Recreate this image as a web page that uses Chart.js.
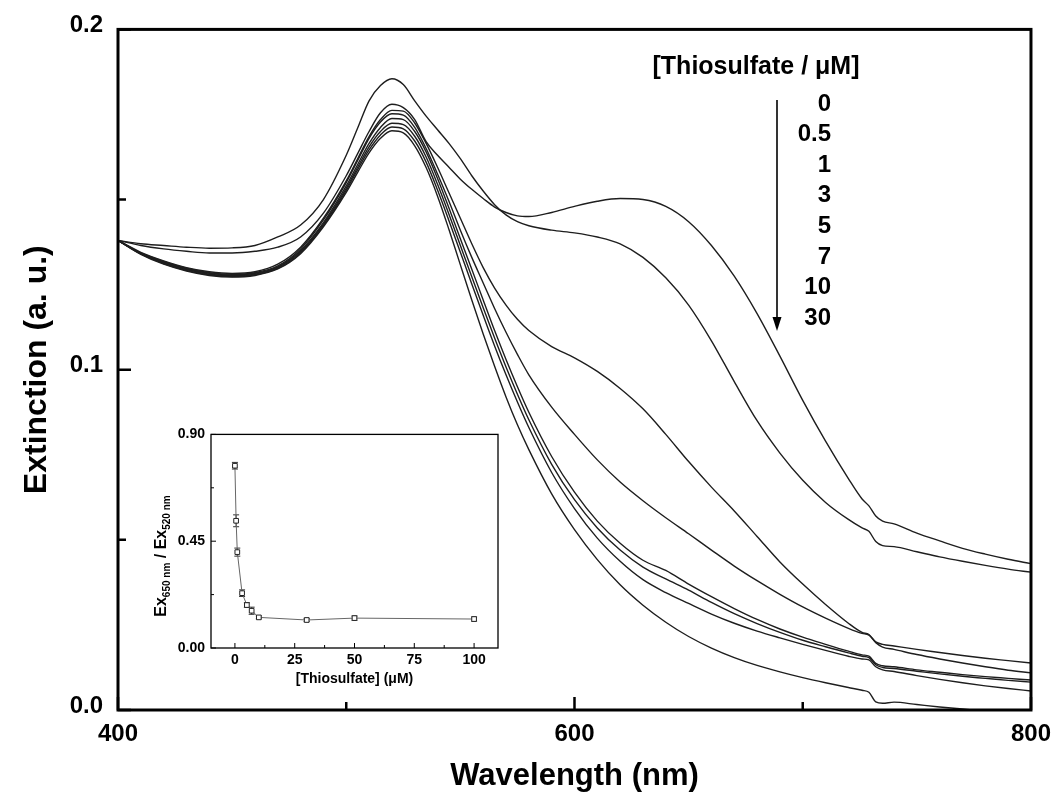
<!DOCTYPE html>
<html>
<head>
<meta charset="utf-8">
<title>Extinction spectra - thiosulfate</title>
<script src="https://cdn.jsdelivr.net/npm/chart.js@4.4.0/dist/chart.umd.min.js"></script>
<style>
  html, body { margin: 0; padding: 0; background: #fff; }
  #wrap { position: relative; width: 1061px; height: 802px; }
  #mainChart { position: absolute; left: 0; top: 0; }
  #insetChart { position: absolute; left: 140px; top: 420px; }
</style>
</head>
<body>
<div id="wrap">
  <canvas id="mainChart" width="1061" height="802"></canvas>
  <canvas id="insetChart" width="370" height="280"></canvas>
</div>
<script>
/* ==================== DATA ==================== */
// wavelength grid (nm)
const wavelength = [400,410,420,430,440,450,460,470,480,490,500,
  505,510,515,520,525,530,535,540,545,550,555,560,565,570,575,580,
  590,600,610,620,630,640,650,660,670,680,690,700,710,720,
  726,729,732,735,
  740,750,760,770,780,790,800];

// extinction spectra, one per thiosulfate concentration
const ext0 = [0.138,0.1365,0.1355,0.1348,0.1343,0.1343,0.1348,0.1360,0.1390,0.1460,0.1570,
  0.1635,0.1700,0.1755,0.1780,0.1770,0.1735,0.1670,0.1630,0.1595,0.1560,0.1530,0.1503,0.1478,0.1462,0.1452,0.1450,
  0.1462,0.1480,0.1495,0.1503,0.1500,0.1480,0.1435,0.1365,0.1275,0.1165,0.1040,0.0910,0.0790,0.0680,
  0.0620,0.0600,0.0570,0.0555,
  0.0547,0.0520,0.0497,0.0475,0.0458,0.0443,0.0430];
const ext05 = [0.138,0.1370,0.1365,0.1360,0.1357,0.1358,0.1365,0.1390,0.1425,0.1500,0.1630,
  0.1710,0.1790,0.1835,0.1855,0.1838,0.1790,0.1745,0.1705,0.1665,0.1620,0.1570,0.1525,0.1485,0.1455,0.1435,0.1423,
  0.1410,0.1402,0.1390,0.1370,0.1330,0.1270,0.1190,0.1085,0.0965,0.0850,0.0755,0.0675,0.0610,0.0560,
  0.0535,0.0525,0.0495,0.0483,
  0.0480,0.0465,0.0450,0.0437,0.0425,0.0414,0.0405];
const ext1 = [0.138,0.1345,0.1320,0.1300,0.1288,0.1283,0.1288,0.1310,0.1360,0.1445,0.1555,
  0.1620,0.1685,0.1735,0.1762,0.1760,0.1725,0.1665,0.1595,0.1520,0.1445,0.1370,0.1300,0.1240,0.1190,0.1148,0.1115,
  0.1068,0.1035,0.0995,0.0945,0.0885,0.0810,0.0730,0.0655,0.0585,0.0510,0.0435,0.0370,0.0310,0.0255,
  0.0228,0.0222,0.0200,0.0193,
  0.0188,0.0178,0.0169,0.0160,0.0152,0.0145,0.0138];
const ext3 = [0.138,0.1343,0.1318,0.1298,0.1285,0.1280,0.1285,0.1305,0.1355,0.1440,0.1550,
  0.1615,0.1680,0.1728,0.1752,0.1748,0.1712,0.1650,0.1575,0.1495,0.1410,0.1330,0.1255,0.1180,0.1110,0.1045,0.0985,
  0.0890,0.0810,0.0735,0.0670,0.0615,0.0565,0.0518,0.0470,0.0423,0.0380,0.0340,0.0303,0.0270,0.0240,
  0.0225,0.0220,0.0198,0.0185,
  0.0178,0.0163,0.0150,0.0138,0.0127,0.0117,0.0109];
const ext5 = [0.138,0.1342,0.1316,0.1296,0.1283,0.1278,0.1283,0.1302,0.1350,0.1432,0.1540,
  0.1603,0.1665,0.1712,0.1738,0.1735,0.1700,0.1640,0.1562,0.1475,0.1385,0.1295,0.1205,0.1115,0.1030,0.0950,0.0875,
  0.0745,0.0640,0.0555,0.0490,0.0440,0.0410,0.0370,0.0333,0.0298,0.0266,0.0238,0.0214,0.0193,0.0173,
  0.0162,0.0158,0.0137,0.0130,
  0.0127,0.0118,0.0111,0.0104,0.0098,0.0093,0.0088];
const ext7 = [0.138,0.1341,0.1314,0.1294,0.1281,0.1276,0.1281,0.1300,0.1347,0.1428,0.1533,
  0.1595,0.1655,0.1700,0.1724,0.1720,0.1686,0.1625,0.1545,0.1457,0.1365,0.1273,0.1182,0.1093,0.1008,0.0928,0.0853,
  0.0722,0.0618,0.0535,0.0470,0.0420,0.0385,0.0352,0.0316,0.0283,0.0254,0.0228,0.0205,0.0186,0.0168,
  0.0158,0.0154,0.0133,0.0125,
  0.0122,0.0114,0.0106,0.0099,0.0093,0.0087,0.0082];
const ext10 = [0.138,0.1340,0.1312,0.1292,0.1279,0.1274,0.1279,0.1298,0.1344,0.1424,0.1527,
  0.1588,0.1646,0.1690,0.1713,0.1708,0.1672,0.1610,0.1528,0.1438,0.1345,0.1252,0.1160,0.1070,0.0985,0.0905,0.0830,
  0.0698,0.0592,0.0505,0.0437,0.0383,0.0345,0.0313,0.0282,0.0255,0.0232,0.0212,0.0193,0.0175,0.0158,
  0.0150,0.0147,0.0127,0.0118,
  0.0113,0.0101,0.0090,0.0080,0.0071,0.0063,0.0056];
const ext30 = [0.138,0.1339,0.1310,0.1290,0.1277,0.1272,0.1277,0.1296,0.1341,0.1420,0.1521,
  0.1580,0.1637,0.1680,0.1702,0.1696,0.1658,0.1594,0.1510,0.1412,0.1308,0.1205,0.1105,0.1010,0.0920,0.0838,0.0765,
  0.0635,0.0530,0.0442,0.0368,0.0308,0.0258,0.0216,0.0182,0.0154,0.0131,0.0112,0.0095,0.0080,0.0066,
  0.0058,0.0052,0.0024,0.0020,
  0.0023,0.0016,0.0009,0.0003,-0.0004,-0.0012,-0.0020];

const spectra = [ext0, ext05, ext1, ext3, ext5, ext7, ext10, ext30];
const concLabels = ['0', '0.5', '1', '3', '5', '7', '10', '30'];

// main axes ticks
const xTicks = [400, 600, 800];
const xTickLabels = ['400', '600', '800'];
const xMinor = [500, 700];
const yTicks = [0, 0.1, 0.2];
const yTickLabels = ['0.0', '0.1', '0.2'];
const yMinor = [0.05, 0.15];

// inset: ratio Ex650/Ex520 vs thiosulfate
const insetConc = [0, 0.5, 1, 3, 5, 7, 10, 30, 50, 100];
const insetRatio = [0.768, 0.536, 0.404, 0.231, 0.181, 0.157, 0.129, 0.118, 0.126, 0.122];
const insetErr = [0.014, 0.025, 0.017, 0.014, 0.010, 0.015, 0.006, 0.007, 0.009, 0.009];
const insetXTicks = [0, 25, 50, 75, 100];
const insetXMinor = [12.5, 37.5, 62.5, 87.5];
const insetYTicks = [0, 0.45, 0.9];
const insetYTickLabels = ['0.00', '0.45', '0.90'];
const insetYMinor = [0.225, 0.675];

/* ==================== PLUGINS ==================== */
const FONT = "'Liberation Sans', Arial, Helvetica, sans-serif";
Chart.defaults.font.family = FONT;
Chart.defaults.color = '#000';

// boxed frame + inward ticks (bottom and left only)
const frameAndTicks = {
  id: 'frameAndTicks',
  afterDraw(chart, args, o) {
    const { ctx, chartArea: a, scales: { x, y } } = chart;
    ctx.save();
    ctx.strokeStyle = '#000';
    ctx.lineWidth = o.tickWidth;
    ctx.beginPath();
    const xt = (vals, len) => vals.forEach(v => {
      const px = x.getPixelForValue(v);
      ctx.moveTo(px, a.bottom); ctx.lineTo(px, a.bottom - len);
    });
    const yt = (vals, len) => vals.forEach(v => {
      const py = y.getPixelForValue(v);
      ctx.moveTo(a.left, py); ctx.lineTo(a.left + len, py);
    });
    xt(o.xMajor, o.major); xt(o.xMinor, o.minor);
    yt(o.yMajor, o.major); yt(o.yMinor, o.minor);
    ctx.stroke();
    ctx.lineWidth = o.frame;
    ctx.strokeRect(a.left, a.top, a.right - a.left, a.bottom - a.top);
    ctx.restore();
  }
};

// concentration list with arrow
const concLegend = {
  id: 'concLegend',
  afterDraw(chart) {
    const ctx = chart.ctx;
    ctx.save();
    ctx.fillStyle = '#000';
    ctx.font = `bold 25px ${FONT}`;
    ctx.textAlign = 'center';
    ctx.textBaseline = 'middle';
    ctx.fillText('[Thiosulfate / μM]', 756, 67);
    ctx.font = `bold 24px ${FONT}`;
    ctx.textAlign = 'right';
    concLabels.forEach((t, i) => ctx.fillText(t, 831, 104 + i * 30.6));
    // arrow
    ctx.strokeStyle = '#000';
    ctx.lineWidth = 1.6;
    ctx.beginPath();
    ctx.moveTo(777, 100); ctx.lineTo(777, 320);
    ctx.stroke();
    ctx.beginPath();
    ctx.moveTo(777, 331); ctx.lineTo(772.5, 317); ctx.lineTo(781.5, 317);
    ctx.closePath(); ctx.fill();
    ctx.restore();
  }
};

/* ==================== MAIN CHART ==================== */
new Chart(document.getElementById('mainChart'), {
  type: 'line',
  data: {
    datasets: spectra.map((s, i) => ({
      label: concLabels[i] + ' µM',
      data: wavelength.map((w, j) => ({ x: w, y: s[j] })),
      borderColor: '#1e1e1e',
      borderWidth: 1.4,
      pointRadius: 0,
      cubicInterpolationMode: 'monotone',
      fill: false
    }))
  },
  options: {
    responsive: false,
    animation: false,
    layout: { padding: { left: 0, top: 28, right: 25, bottom: 0 } },
    plugins: {
      legend: { display: false },
      tooltip: { enabled: false },
      frameAndTicks: { frame: 3, tickWidth: 2.5, major: 13, minor: 8,
        xMajor: xTicks, xMinor: xMinor, yMajor: yTicks, yMinor: yMinor }
    },
    scales: {
      x: {
        type: 'linear', min: 400, max: 800,
        afterBuildTicks: s => { s.ticks = xTicks.map(v => ({ value: v })); },
        afterFit: s => { s.height = 92; },
        grid: { display: false, drawTicks: false },
        border: { display: false },
        ticks: { autoSkip: false, maxRotation: 0, padding: 10,
          font: { size: 24, weight: 'bold' }, color: '#000',
          callback: (v, i) => xTickLabels[i] },
        title: { display: true, text: 'Wavelength (nm)', color: '#000',
          font: { size: 31, weight: 'bold' }, padding: { top: 0, bottom: 7 } }
      },
      y: {
        type: 'linear', min: 0, max: 0.2,
        afterBuildTicks: s => { s.ticks = yTicks.map(v => ({ value: v })); },
        afterFit: s => { s.width = 118; },
        grid: { display: false, drawTicks: false },
        border: { display: false },
        ticks: { autoSkip: false, padding: 15, labelOffset: -4,
          font: { size: 24, weight: 'bold' }, color: '#000',
          callback: (v, i) => yTickLabels[i] },
        title: { display: true, text: 'Extinction (a. u.)', color: '#000',
          font: { size: 32, weight: 'bold' }, padding: { top: 18, bottom: 0 } }
      }
    }
  },
  plugins: [frameAndTicks, concLegend]
});

/* ==================== INSET ==================== */
const insetExtras = {
  id: 'insetExtras',
  beforeDatasetsDraw(chart) {
    const { ctx, scales: { x, y } } = chart;
    ctx.save();
    ctx.strokeStyle = '#333';
    ctx.lineWidth = 1;
    ctx.beginPath();
    insetConc.forEach((c, i) => {
      const px = x.getPixelForValue(c);
      const top = y.getPixelForValue(insetRatio[i] + insetErr[i]);
      const bot = y.getPixelForValue(insetRatio[i] - insetErr[i]);
      ctx.moveTo(px, top); ctx.lineTo(px, bot);
      ctx.moveTo(px - 3, top); ctx.lineTo(px + 3, top);
      ctx.moveTo(px - 3, bot); ctx.lineTo(px + 3, bot);
    });
    ctx.stroke();
    ctx.restore();
  },
  afterDraw(chart) {
    // rotated y title with subscripts
    const ctx = chart.ctx;
    const parts = [['Ex', 16, 0], ['650 nm', 10, 4], [' / Ex', 16, 0], ['520 nm', 10, 4]];
    ctx.save();
    ctx.translate(26, 136);
    ctx.rotate(-Math.PI / 2);
    ctx.fillStyle = '#000';
    ctx.textBaseline = 'alphabetic';
    ctx.textAlign = 'left';
    let total = 0;
    parts.forEach(p => { ctx.font = `bold ${p[1]}px ${FONT}`; total += ctx.measureText(p[0]).width; });
    let cx = -total / 2;
    parts.forEach(p => {
      ctx.font = `bold ${p[1]}px ${FONT}`;
      ctx.fillText(p[0], cx, p[2]);
      cx += ctx.measureText(p[0]).width;
    });
    ctx.restore();
  }
};

new Chart(document.getElementById('insetChart'), {
  type: 'line',
  data: {
    datasets: [{
      label: 'Ex650/Ex520',
      data: insetConc.map((c, i) => ({ x: c, y: insetRatio[i] })),
      borderColor: '#666',
      borderWidth: 1,
      tension: 0,
      pointStyle: 'rect',
      pointRadius: 3.3,
      pointBackgroundColor: '#fff',
      pointBorderColor: '#222',
      pointBorderWidth: 1
    }]
  },
  options: {
    responsive: false,
    animation: false,
    layout: { padding: { left: 0, top: 12, right: 12, bottom: 0 } },
    plugins: {
      legend: { display: false },
      tooltip: { enabled: false },
      frameAndTicks: { frame: 1.3, tickWidth: 1, major: 5, minor: 3,
        xMajor: insetXTicks, xMinor: insetXMinor, yMajor: insetYTicks, yMinor: insetYMinor }
    },
    scales: {
      x: {
        type: 'linear', min: -10, max: 110,
        afterBuildTicks: s => { s.ticks = insetXTicks.map(v => ({ value: v })); },
        afterFit: s => { s.height = 52; },
        grid: { display: false, drawTicks: false },
        border: { display: false },
        ticks: { autoSkip: false, maxRotation: 0, padding: 4,
          font: { size: 14, weight: 'bold' }, color: '#000' },
        title: { display: true, text: '[Thiosulfate] (μM)', color: '#000',
          font: { size: 14, weight: 'bold' }, padding: { top: 0, bottom: 12 } }
      },
      y: {
        type: 'linear', min: 0, max: 0.9,
        afterBuildTicks: s => { s.ticks = insetYTicks.map(v => ({ value: v })); },
        afterFit: s => { s.width = 71; },
        grid: { display: false, drawTicks: false },
        border: { display: false },
        ticks: { autoSkip: false, padding: 6,
          font: { size: 14, weight: 'bold' }, color: '#000',
          callback: (v, i) => insetYTickLabels[i] }
      }
    }
  },
  plugins: [frameAndTicks, insetExtras]
});
</script>
</body>
</html>
